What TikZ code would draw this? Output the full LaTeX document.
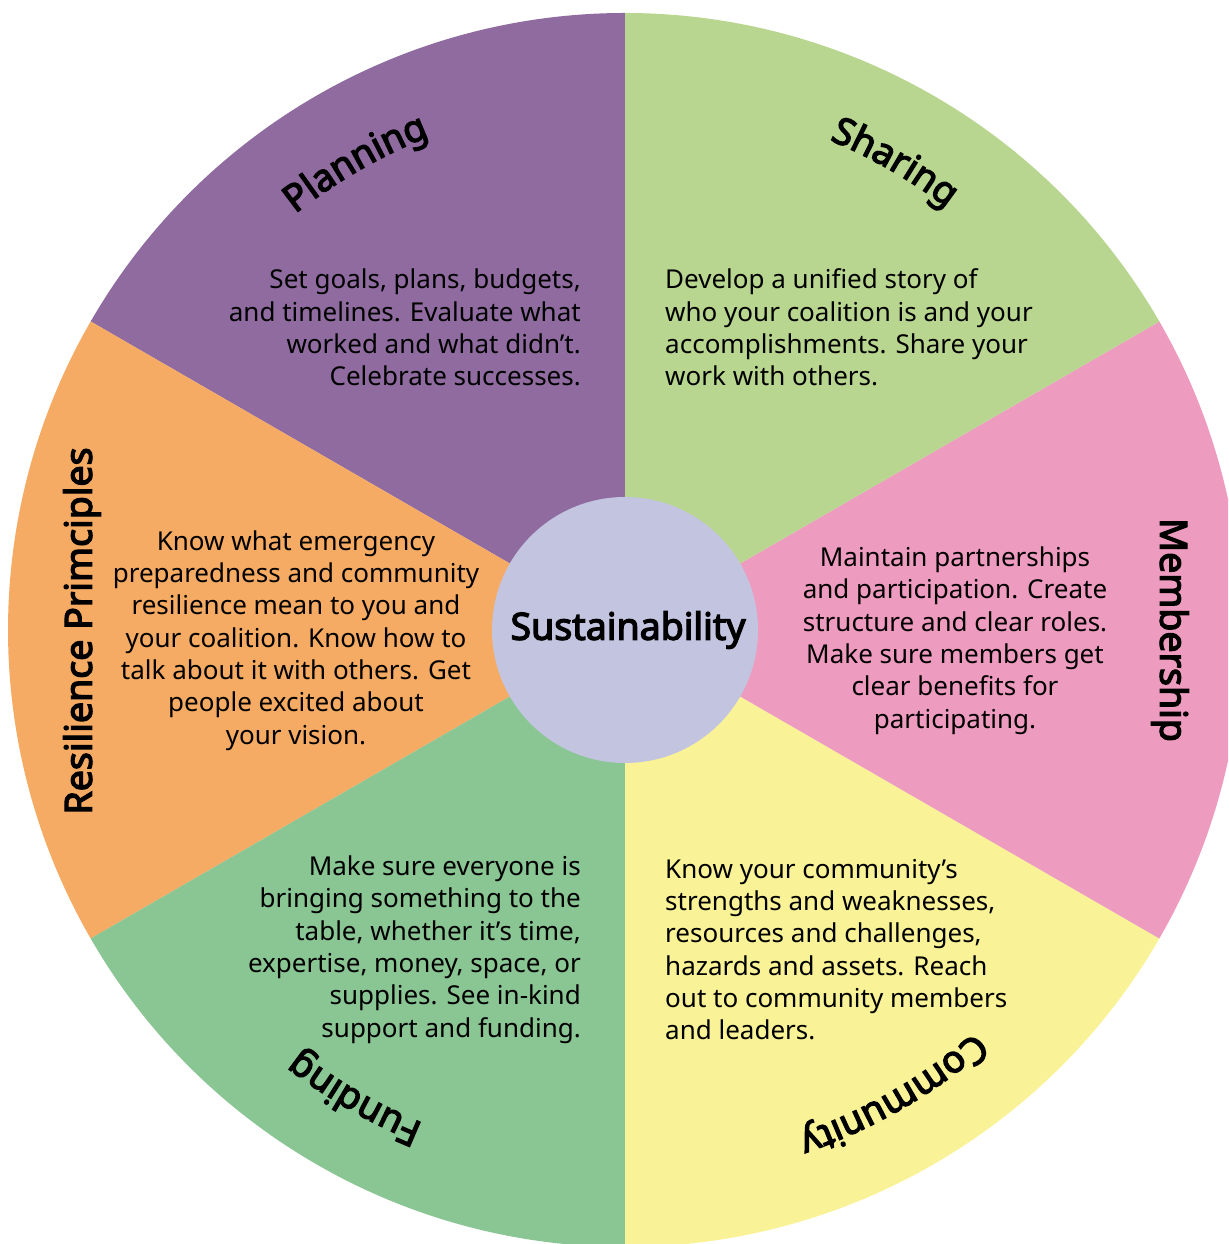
\documentclass[tikz,border=0pt]{standalone}
\usepackage{fontspec}
\setmainfont{Noto Sans}
\newfontfamily\titlefont{Noto Sans}[FakeBold=3.5]
\usetikzlibrary{decorations.text}
\definecolor{cplan}{HTML}{8F6BA0}
\definecolor{cres}{HTML}{F5AB63}
\definecolor{cfund}{HTML}{8AC594}
\definecolor{ccomm}{HTML}{F9F297}
\definecolor{cmem}{HTML}{EE9BC0}
\definecolor{cshare}{HTML}{B8D68F}
\definecolor{chub}{HTML}{C3C4DF}
\begin{document}
\begin{tikzpicture}[x=1pt,y=1pt,
  body/.style={font=\fontsize{26}{32.3}\selectfont, inner sep=0pt, text=black},
  title/.style={font=\titlefont\fontsize{37.5}{42}\selectfont, inner sep=0pt, text=black},
  arctitle/.style={decorate, decoration={text along path, text align=center,
     text={|\titlefont\fontsize{37.5}{42}\selectfont|#1}}}]
\useasboundingbox (0,0) rectangle (1228,1244);
\clip (0,0) rectangle (1228,1244);
\coordinate (C) at (625,614);
\begin{scope}[shift={(625,614)}]
\fill[cplan]  (0,0) -- (90:617)  arc[start angle=90, end angle=150, radius=617] -- cycle;
\fill[cres]   (0,0) -- (150:617) arc[start angle=150,end angle=210, radius=617] -- cycle;
\fill[cfund]  (0,0) -- (210:617) arc[start angle=210,end angle=270, radius=617] -- cycle;
\fill[ccomm]  (0,0) -- (270:617) arc[start angle=270,end angle=330, radius=617] -- cycle;
\fill[cmem]   (0,0) -- (330:617) arc[start angle=330,end angle=390, radius=617] -- cycle;
\fill[cshare] (0,0) -- (30:617)  arc[start angle=30, end angle=90,  radius=617] -- cycle;
\path[arctitle=Planning] (150:531) arc[start angle=150, end angle=90, radius=531];
\path[arctitle=Sharing] (90:531) arc[start angle=90, end angle=30, radius=531];
\path[arctitle=Community] (330:533) arc[start angle=330, end angle=270, radius=533];
\path[arctitle=Funding] (270:533) arc[start angle=270, end angle=210, radius=533];
\end{scope}
\node[circle, fill=chub, minimum size=266pt, inner sep=0pt] (hub) at (C) {};
\node[title] (sus) at (628,614) {Sustainability};
\node[title, rotate=-90] (mem) at (1170,614) {Membership};
\node[title, rotate=90] (res) at (82,613) {Resilience Primciples};
\node[body, anchor=east, align=right] (tplan) at (581,916.5) {Set goals, plans, budgets,\\and timelines. Evaluate what\\worked and what didn’t.\\Celebrate successes.};
\node[body, anchor=west, align=left] (tshare) at (665,916.5) {Develop a unified story of\\who your coalition is and your\\accomplishments. Share your\\work with others.};
\node[body, align=center] (tres) at (296,603.5) {Know what emergency\\preparedness and community\\resilience mean to you and\\your coalition. Know how to\\talk about it with others. Get\\people excited about\\your vision.};
\node[body, align=center] (tmem) at (955,603.5) {Maintain partnerships\\and participation. Create\\structure and clear roles.\\Make sure members get\\clear benefits for\\participating.};
\node[body, anchor=east, align=right] (tfund) at (581,294.5) {Make sure everyone is\\bringing something to the\\table, whether it’s time,\\expertise, money, space, or\\supplies. See in-kind\\support and funding.};
\node[body, anchor=west, align=left] (tcomm) at (665,294.5) {Know your community’s\\strengths and weaknesses,\\resources and challenges,\\hazards and assets. Reach\\out to community members\\and leaders.};
\end{tikzpicture}
\end{document}
